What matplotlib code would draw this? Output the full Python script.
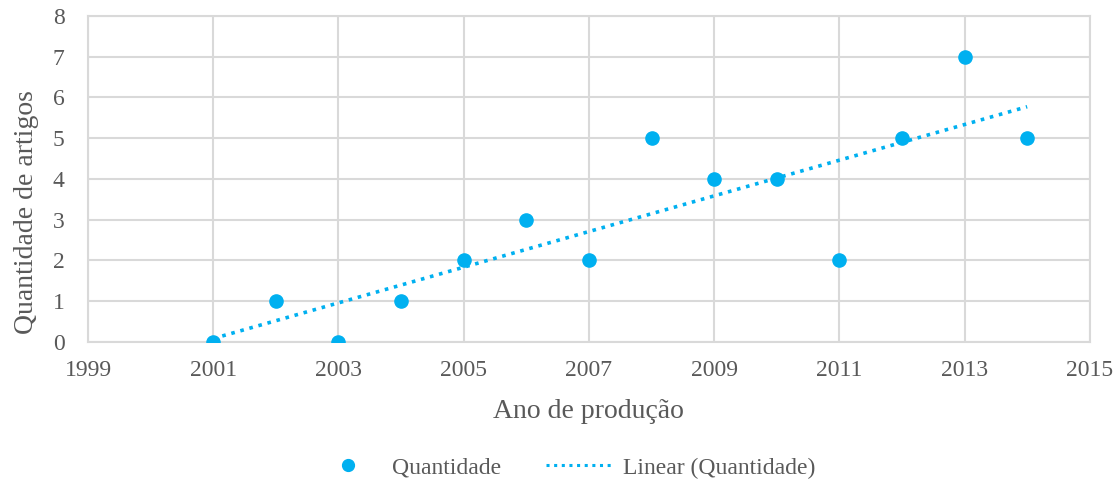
import numpy as np
import matplotlib
matplotlib.use('Agg')
import matplotlib.pyplot as plt
from matplotlib.lines import Line2D

# Data
anos = [2001, 2002, 2003, 2004, 2005, 2006, 2007, 2008, 2009, 2010, 2011, 2012, 2013, 2014]
quantidade = [0, 1, 0, 1, 2, 3, 2, 5, 4, 4, 2, 5, 7, 5]
x_ticks = [1999, 2001, 2003, 2005, 2007, 2009, 2011, 2013, 2015]
y_ticks = [0, 1, 2, 3, 4, 5, 6, 7, 8]

azul = '#00B0F0'
cinza = '#595959'
grade = '#d9d9d9'

plt.rcParams['font.family'] = ['Liberation Serif', 'DejaVu Serif']

fig = plt.figure(figsize=(11.2, 4.95), dpi=100)
ax = fig.add_axes([0.0786, 0.309, 0.8944, 0.659])

# Scatter + linear trend
ax.scatter(anos, quantidade, s=90, color=azul, zorder=3)
coef = np.polyfit(anos, quantidade, 1)
x_fit = np.array([anos[0], anos[-1]])
ax.plot(x_fit, np.polyval(coef, x_fit), linestyle=(0, (1, 1.6)), color=azul,
        linewidth=2.6, zorder=2)

ax.set_xlim(1999, 2015)
ax.set_ylim(0, 8)
ax.set_xticks(x_ticks)
ax.set_yticks(y_ticks)
ax.grid(True, color=grade, linewidth=1.5, zorder=0)
ax.set_axisbelow(True)
for s in ax.spines.values():
    s.set_color(grade)
    s.set_linewidth(1.5)
ax.tick_params(axis='x', length=0, labelsize=17, labelcolor=cinza, pad=13)
ax.tick_params(axis='y', length=0, labelsize=17, labelcolor=cinza, pad=17)

ax.set_xlabel('Ano de produção', fontsize=20, color=cinza, labelpad=13)
ax.set_ylabel('Quantidade de artigos', fontsize=20, color=cinza)
ax.yaxis.set_label_coords(-0.049, 0.40)

# Legend
handles = [
    Line2D([], [], linestyle='none', marker='o', markersize=8.5, color=azul),
    Line2D([], [], linestyle=(0, (1, 1.5)), linewidth=2.2, color=azul),
]
fig.legend(handles, ['Quantidade', 'Linear (Quantidade)'], loc='lower center',
           bbox_to_anchor=(0.505, -0.01), ncol=2, frameon=False, fontsize=17,
           labelcolor=cinza, handlelength=2.75, handletextpad=0.5,
           columnspacing=1.9)

fig.savefig('out.png', dpi=100)
